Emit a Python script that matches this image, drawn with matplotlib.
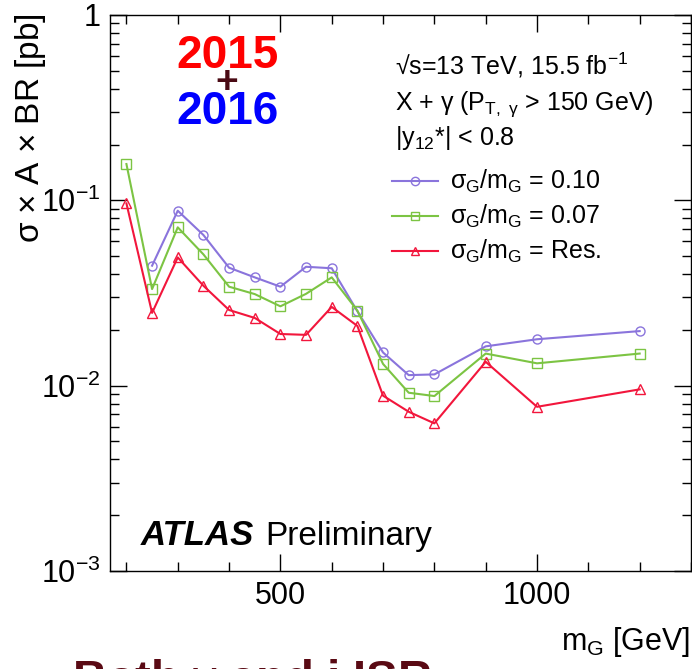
import matplotlib
matplotlib.use("Agg")
import matplotlib.pyplot as plt
from matplotlib.ticker import MultipleLocator, LogLocator, NullFormatter, FixedLocator

plt.rcParams["font.family"] = ["Liberation Sans", "DejaVu Sans"]
plt.rcParams["mathtext.fontset"] = "custom"
plt.rcParams["mathtext.rm"] = "Liberation Sans"
plt.rcParams["mathtext.it"] = "Liberation Sans"
plt.rcParams["mathtext.bf"] = "Liberation Sans:bold"

# limits on sigma x A x BR [pb] vs signal mass
mass = [200, 250, 300, 350, 400, 450, 500, 550, 600, 650, 700, 750, 800, 900, 1000, 1200]
lim_010 = [None, 0.0444, 0.0879, 0.065, 0.0433, 0.0384, 0.0342, 0.0438, 0.043, 0.0252,
           0.0151, 0.0114, 0.0115, 0.0163, 0.0178, 0.0197]
lim_007 = [0.157, 0.0332, 0.0715, 0.0511, 0.0342, 0.0312, 0.0268, 0.0313, 0.0384, 0.0254,
           0.0131, 0.00916, 0.00879, 0.0149, 0.0132, 0.0149]
lim_res = [0.0963, 0.0247, 0.0492, 0.0346, 0.0256, 0.0232, 0.0190, 0.0188, 0.0266, 0.0210,
           0.00883, 0.00723, 0.00626, 0.01345, 0.00769, 0.00955]

C_010 = "#8a74dc"
C_007 = "#7cc443"
C_RES = "#f2163c"

series = [
    (lim_010, C_010, "o", r"$\sigma_{G}/m_{G}$ = 0.10"),
    (lim_007, C_007, "s", r"$\sigma_{G}/m_{G}$ = 0.07"),
    (lim_res, C_RES, "^", r"$\sigma_{G}/m_{G}$ = Res."),
]

fig = plt.figure(figsize=(6.92, 6.69), dpi=100)
ax = fig.add_axes([110 / 692, 1 - 571 / 669, 581 / 692, 556 / 669])

for vals, col, mk, _ in series:
    xs = [m for m, v in zip(mass, vals) if v is not None]
    ys = [v for v in vals if v is not None]
    ax.plot(xs, ys, color=col, lw=1.5, marker=mk, ms=6.5, mfc="none", mec=col, mew=1.0)

ax.set_yscale("log")
ax.set_xlim(168, 1300)
ax.set_ylim(1e-3, 1)

ax.xaxis.set_major_locator(FixedLocator([500, 1000]))
ax.xaxis.set_minor_locator(MultipleLocator(100))
ax.yaxis.set_major_locator(LogLocator(base=10))
ax.yaxis.set_minor_locator(LogLocator(base=10, subs=range(2, 10)))
ax.yaxis.set_minor_formatter(NullFormatter())
ax.set_yticks([1e-3, 1e-2, 1e-1, 1])
ax.set_yticklabels([r"$10^{-3}$", r"$10^{-2}$", r"$10^{-1}$", "1"])
ax.tick_params(which="both", direction="in", top=True, right=True, width=1.0, labelsize=22)
ax.tick_params(which="major", length=12, pad=7)
ax.tick_params(which="minor", length=6.5)
for sp in ax.spines.values():
    sp.set_linewidth(1.0)

fig.text(39 / 692, 1 - 13 / 669, r"$\sigma$ × A × BR [pb]", rotation=90,
         rotation_mode="anchor", ha="right", va="baseline", fontsize=24)
fig.text(690 / 692, 1 - 650 / 669, r"$m_{G}$ [GeV]", ha="right", va="baseline", fontsize=22)

# 2015 + 2016 badge
fig.text(227 / 692, 1 - 68 / 669, "2015", color="#ff0000", fontsize=33,
         fontweight="bold", ha="center", va="baseline")
fig.text(227 / 692, 1 - 93 / 669, "+", color="#4a0a14", fontsize=28,
         fontweight="bold", ha="center", va="baseline")
fig.text(227 / 692, 1 - 124 / 669, "2016", color="#0000ff", fontsize=33,
         fontweight="bold", ha="center", va="baseline")

# selection info
fig.text(395 / 692, 1 - 75 / 669, "\u221As=13 TeV, 15.5 fb$^{-1}$", fontsize=18,
         ha="left", va="baseline")
fig.text(395 / 692, 1 - 110 / 669, r"X + $\gamma$ (P$_{T,\ \gamma}$ > 150 GeV)", fontsize=18,
         ha="left", va="baseline")
fig.text(395 / 692, 1 - 145 / 669, r"|y$_{12}$*| < 0.8", fontsize=18,
         ha="left", va="baseline")

# hand-placed legend
for i, (vals, col, mk, lab) in enumerate(series):
    y = 1 - (181 + 35 * i) / 669
    fig.add_artist(plt.Line2D([392 / 692, 438 / 692], [y, y], color=col, lw=1.5,
                              marker=None, transform=fig.transFigure))
    fig.add_artist(plt.Line2D([415 / 692], [y], color=col, marker=mk, ms=6, mfc="none",
                              mec=col, mew=1.0, transform=fig.transFigure))
    fig.text(450 / 692, y, lab, fontsize=18, ha="left", va="center")

fig.text(141 / 692, 1 - 545 / 669, "ATLAS", fontsize=25, fontweight="bold",
         fontstyle="italic", ha="left", va="baseline")
fig.text(265 / 692, 1 - 545 / 669, "Preliminary", fontsize=24, ha="left", va="baseline")

fig.text(72 / 692, 1 - 693 / 669, r"Both $\gamma$ and j ISR", color="#5a0a14", fontsize=34,
         fontweight="bold", ha="left", va="baseline")

fig.savefig("out.png", dpi=100)
